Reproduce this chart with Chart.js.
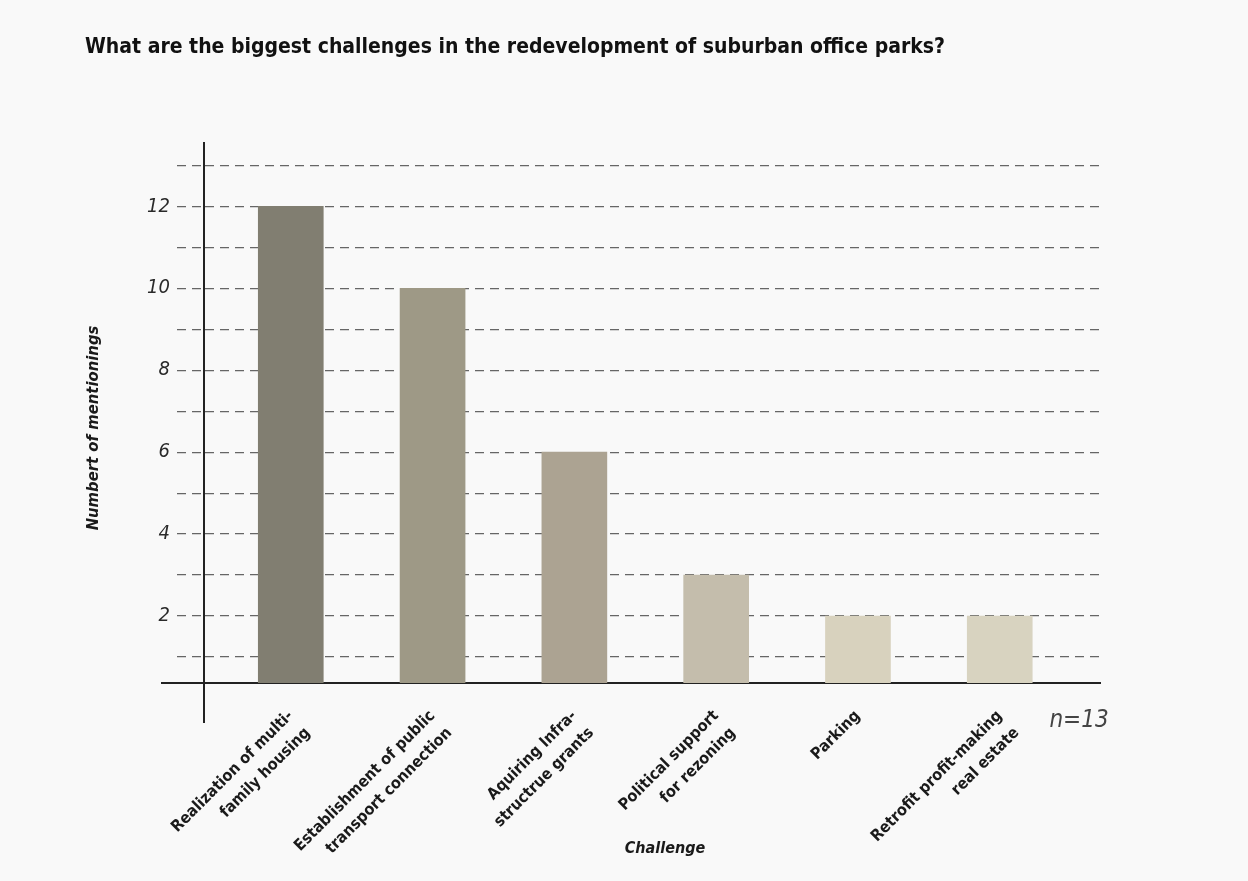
<!DOCTYPE html>
<html>
<head>
<meta charset="utf-8">
<script src="https://cdn.jsdelivr.net/npm/chart.js@4"></script>
<style>
  html, body { margin: 0; padding: 0; background: #f9f9f9; }
  #wrap { width: 1248px; height: 881px; position: relative; }
</style>
</head>
<body>
<div id="wrap"><canvas id="c"></canvas></div>
<script>
// ---- data ----
const categories = [
  ["Realization of multi-", "family housing"],
  ["Establishment of public", "transport connection"],
  ["Aquiring Infra-", "structrue grants"],
  ["Political support", "for rezoning"],
  ["Parking"],
  ["Retrofit profit-making", "real estate"]
];
const mentionings = [12, 10, 6, 3, 2, 2];
const yTicks = [1, 2, 3, 4, 5, 6, 7, 8, 9, 10, 11, 12, 13];
const yTickLabels = ["", "2", "", "4", "", "6", "", "8", "", "10", "", "12", ""];
const chartTitle = "What are the biggest challenges in the redevelopment of suburban office parks?";
const yTitle = "Numbert of mentionings";
const xTitle = "Challenge";
const note = "n=13";

// ---- styles ----
const barColors = ["#817e71", "#9e9986", "#aca392", "#c4bdac", "#d8d2be", "#d8d3c0"];
const FONT = "'Liberation Sans Narrow', 'DejaVu Sans Condensed', 'Arial Narrow', sans-serif";
Chart.defaults.font.family = FONT;
Chart.defaults.color = "#222";

const extras = {
  id: 'extras',
  afterDraw(chart) {
    const ctx = chart.ctx;
    const a = chart.chartArea;
    ctx.save();
    // axis extensions
    ctx.strokeStyle = "#222";
    ctx.lineWidth = 2;
    ctx.beginPath();
    ctx.moveTo(a.left, a.bottom);
    ctx.lineTo(a.left, a.bottom + 40);
    ctx.moveTo(a.left - 43, a.bottom);
    ctx.lineTo(a.left, a.bottom);
    ctx.stroke();
    // y title
    ctx.fillStyle = "#1a1a1a";
    ctx.font = "italic bold 16.5px " + FONT;
    ctx.textAlign = "center";
    ctx.textBaseline = "middle";
    ctx.save();
    ctx.translate(94, 428);
    ctx.rotate(-Math.PI / 2);
    ctx.fillText(yTitle, 0, 0);
    ctx.restore();
    // x title
    ctx.font = "italic bold 16px " + FONT;
    ctx.fillText(xTitle, 665, 849);
    // note
    ctx.font = "italic 24px " + FONT;
    ctx.fillStyle = "#444";
    ctx.fillText(note, 1079, 721);
    ctx.restore();
  }
};

new Chart(document.getElementById('c'), {
  type: 'bar',
  data: {
    datasets: [{
      data: mentionings.map((v, i) => ({ x: i + 1, y: v })),
      backgroundColor: barColors,
      borderWidth: 0,
      barThickness: 65
    }]
  },
  options: {
    responsive: true,
    maintainAspectRatio: false,
    animation: false,
    layout: { padding: { left: 85, right: 148, top: 0, bottom: 0 } },
    plugins: {
      legend: { display: false },
      tooltip: { enabled: false },
      title: {
        display: true,
        text: chartTitle,
        align: 'start',
        color: '#111',
        font: { size: 21, weight: 'bold', family: FONT, lineHeight: 1.2 },
        padding: { top: 35, bottom: 83 }
      }
    },
    scales: {
      x: {
        type: 'linear',
        offset: false,
        min: 0.388,
        max: 6.707,
        grid: { display: false, drawTicks: false, offset: false },
        border: { display: true, color: '#222', width: 2 },
        afterBuildTicks(scale) { scale.ticks = categories.map((c, i) => ({ value: i + 1 })); },
        afterFit(scale) { scale.height = 198; },
        ticks: {
          autoSkip: false,
          maxRotation: 45,
          minRotation: 45,
          padding: 22,
          color: '#1a1a1a',
          font: { size: 16, weight: 'bold', family: FONT, lineHeight: 1.5 },
          callback: (v) => categories[Math.round(v) - 1]
        }
      },
      y: {
        z: 1,
        min: 0.366,
        max: 13.54,
        afterBuildTicks(scale) { scale.ticks = yTicks.map(v => ({ value: v })); },
        afterFit(scale) { scale.width = 119; },
        grid: {
          color: '#666',
          lineWidth: 1.2,
          tickLength: 27,
          tickColor: '#666',
          tickBorderDash: [9, 6],
          drawTicks: true
        },
        border: { display: true, color: '#222', width: 2, dash: [9, 6] },
        ticks: {
          padding: 7,
          color: '#2a2a2a',
          font: { size: 20, style: 'italic', family: FONT },
          callback: (v) => yTickLabels[yTicks.indexOf(v)] ?? ''
        }
      }
    }
  },
  plugins: [extras]
});
</script>
</body>
</html>
